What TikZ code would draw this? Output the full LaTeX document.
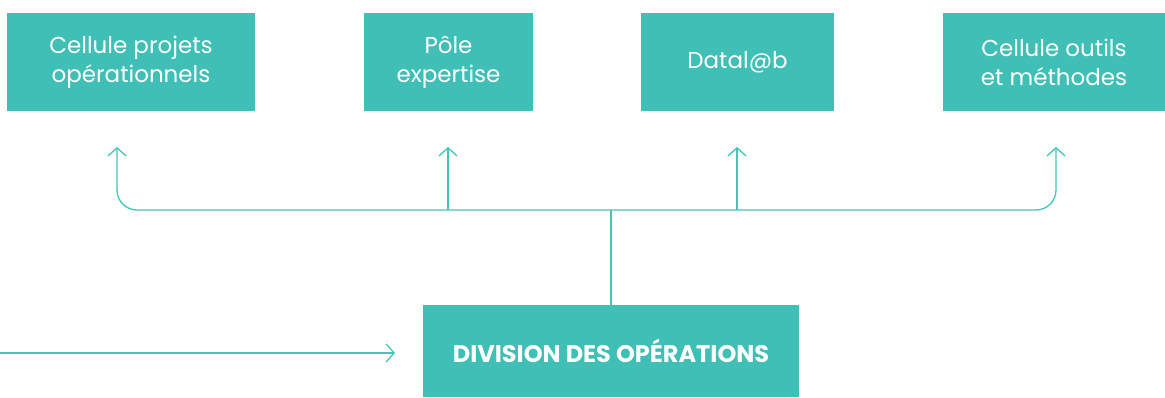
\documentclass[tikz,border=0pt]{standalone}
\usepackage{fontspec}
\setmainfont{Poppins}
\usetikzlibrary{arrows.meta}
\definecolor{teal}{HTML}{3FBFB5}
\definecolor{tline}{HTML}{45C4B9}
\tikzset{
  box/.style={fill=teal, text=white, inner sep=0pt, align=center, font=\fontsize{23}{29}\selectfont},
  link/.style={draw=tline, line width=1.3pt},
  tip/.style={-{Straight Barb[length=8pt,width=18pt,line width=1.3pt]}},
}
\begin{document}
\begin{tikzpicture}[x=1pt,y=-1pt]
\useasboundingbox (0,0) rectangle (1165,397);
\node[box, minimum width=248pt, minimum height=98pt] (b1) at (131,62) {Cellule projets\\opérationnels};
\node[box, minimum width=169pt, minimum height=98pt] (b2) at (448.5,62) {Pôle\\expertise};
\node[box, minimum width=193pt, minimum height=98pt] (b3) at (737.5,62) {Datal@b};
\node[box, minimum width=222pt, minimum height=98pt] (b4) at (1054,62) {Cellule outils\\et méthodes};
\node[box, minimum width=376pt, minimum height=92pt, font=\fontsize{24}{29}\selectfont\bfseries] (d) at (611,351) {DIVISION DES OPÉRATIONS};
\coordinate (t1) at (117,147);
\coordinate (t2) at (448,147);
\coordinate (t3) at (737,147);
\coordinate (t4) at (1056,147);
\coordinate (hl) at (117,210);
\coordinate (hr) at (1056,210);
\coordinate (j) at (611,210);
\coordinate (src) at (0,353);
\coordinate (dst) at (395,353);
\draw[link, tip, rounded corners=20pt] (j) -- (hl) -- (t1);
\draw[link, tip, rounded corners=20pt] (j) -- (hr) -- (t4);
\draw[link, tip] (448,210) -- (t2);
\draw[link, tip] (737,210) -- (t3);
\draw[link] (d.north -| j) -- (j);
\draw[link, tip] (src) -- (dst);
\end{tikzpicture}
\end{document}
